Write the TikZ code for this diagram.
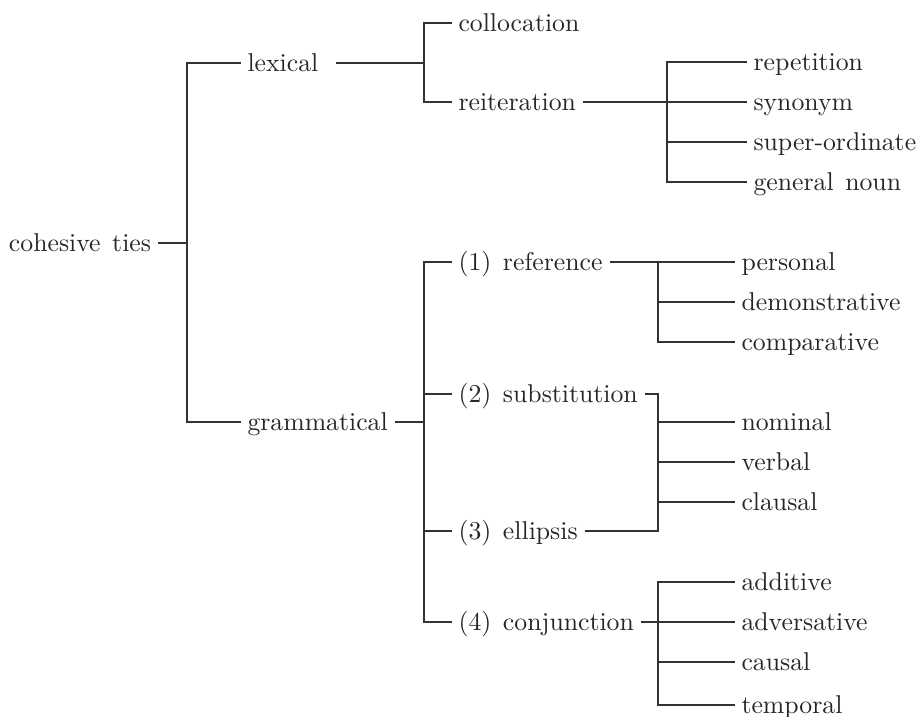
\documentclass[tikz,border=0pt]{standalone}
\usepackage{tikz}
\usetikzlibrary{positioning, calc}
\newcommand{\wsp}{\hspace{0.45em}}

\begin{document}
\begin{tikzpicture}[x=0.4pt, y=-0.4pt, font=\fontsize{10.3}{12}\selectfont]
  % Styles
  \tikzset{
    term/.style={anchor=west, inner xsep=2.6pt, inner ysep=0pt, text height=1.7ex, text depth=0.2ex, text=black!85},
    link/.style={draw=black!80, line width=0.5pt}
  }
  \useasboundingbox (0,0) rectangle (920,716);

  % Nodes
  \node[term, anchor=east] (ties) at (158,243) {cohesive\wsp ties};
  \node[term] (lex) at (240.5,63) {lexical};
  \node[term] (gram) at (240.5,422) {grammatical};

  \node[term] (coll) at (451.5,23) {collocation};
  \node[term] (reit) at (451.5,102) {reiteration};
  \node[term] (ref) at (451.5,262) {(1)\wsp reference};
  \node[term] (subst) at (451.5,394) {(2)\wsp substitution};
  \node[term] (ell) at (451.5,531) {(3)\wsp ellipsis};
  \node[term] (conj) at (451.5,622) {(4)\wsp conjunction};

  \node[term] (rep) at (746.5,62) {repetition};
  \node[term] (syn) at (746.5,102) {synonym};
  \node[term] (sup) at (746.5,142) {super-ordinate};
  \node[term] (gen) at (746.5,182) {general\wsp noun};

  \node[term] (pers) at (734.5,262) {personal};
  \node[term] (dem) at (734.5,302) {demonstrative};
  \node[term] (comp) at (734.5,342) {comparative};

  \node[term] (nom) at (734.5,422) {nominal};
  \node[term] (verb) at (734.5,462) {verbal};
  \node[term] (claus) at (734.5,502) {clausal};

  \node[term] (add) at (734.5,582) {additive};
  \node[term] (adv) at (734.5,622) {adversative};
  \node[term] (caus) at (734.5,662) {causal};
  \node[term] (temp) at (734.5,705) {temporal};

  % Branch points
  \coordinate (b0) at (187,243);
  \coordinate (b1) at (424,63);
  \coordinate (b2) at (667,102);
  \coordinate (b3) at (424,422);
  \coordinate (b4) at (658,262);
  \coordinate (b5) at (658,462);
  \coordinate (b6) at (658,622);

  % Lines
  \draw[link] (ties.east) -- (b0);
  \draw[link] (lex.west) -| (b0) |- (gram.west);

  \draw[link, shorten <=4.4pt] (lex.east) -- (b1);
  \draw[link] (coll.west) -| (b1) |- (reit.west);

  \draw[link] (reit.east) -- (syn.west);
  \draw[link] (rep.west) -| (b2) |- (gen.west);
  \draw[link] (sup.west) -- (sup.west -| b2);

  \draw[link] (gram.east) -- (b3);
  \draw[link] (ref.west) -| (b3) |- (conj.west);
  \foreach \n in {subst, ell}
    \draw[link] (\n.west) -- (\n.west -| b3);

  \draw[link] (ref.east) -- (pers.west);
  \draw[link] (b4) |- (comp.west);
  \draw[link] (dem.west) -- (dem.west -| b4);

  \draw[link] (subst.east) -| (b5) |- (ell.east);
  \foreach \n in {nom, verb, claus}
    \draw[link] (\n.west) -- (\n.west -| b5);

  \draw[link] (conj.east) -- (adv.west);
  \draw[link] (add.west) -| (b6) |- (temp.west);
  \draw[link] (caus.west) -- (caus.west -| b6);

\end{tikzpicture}
\end{document}
